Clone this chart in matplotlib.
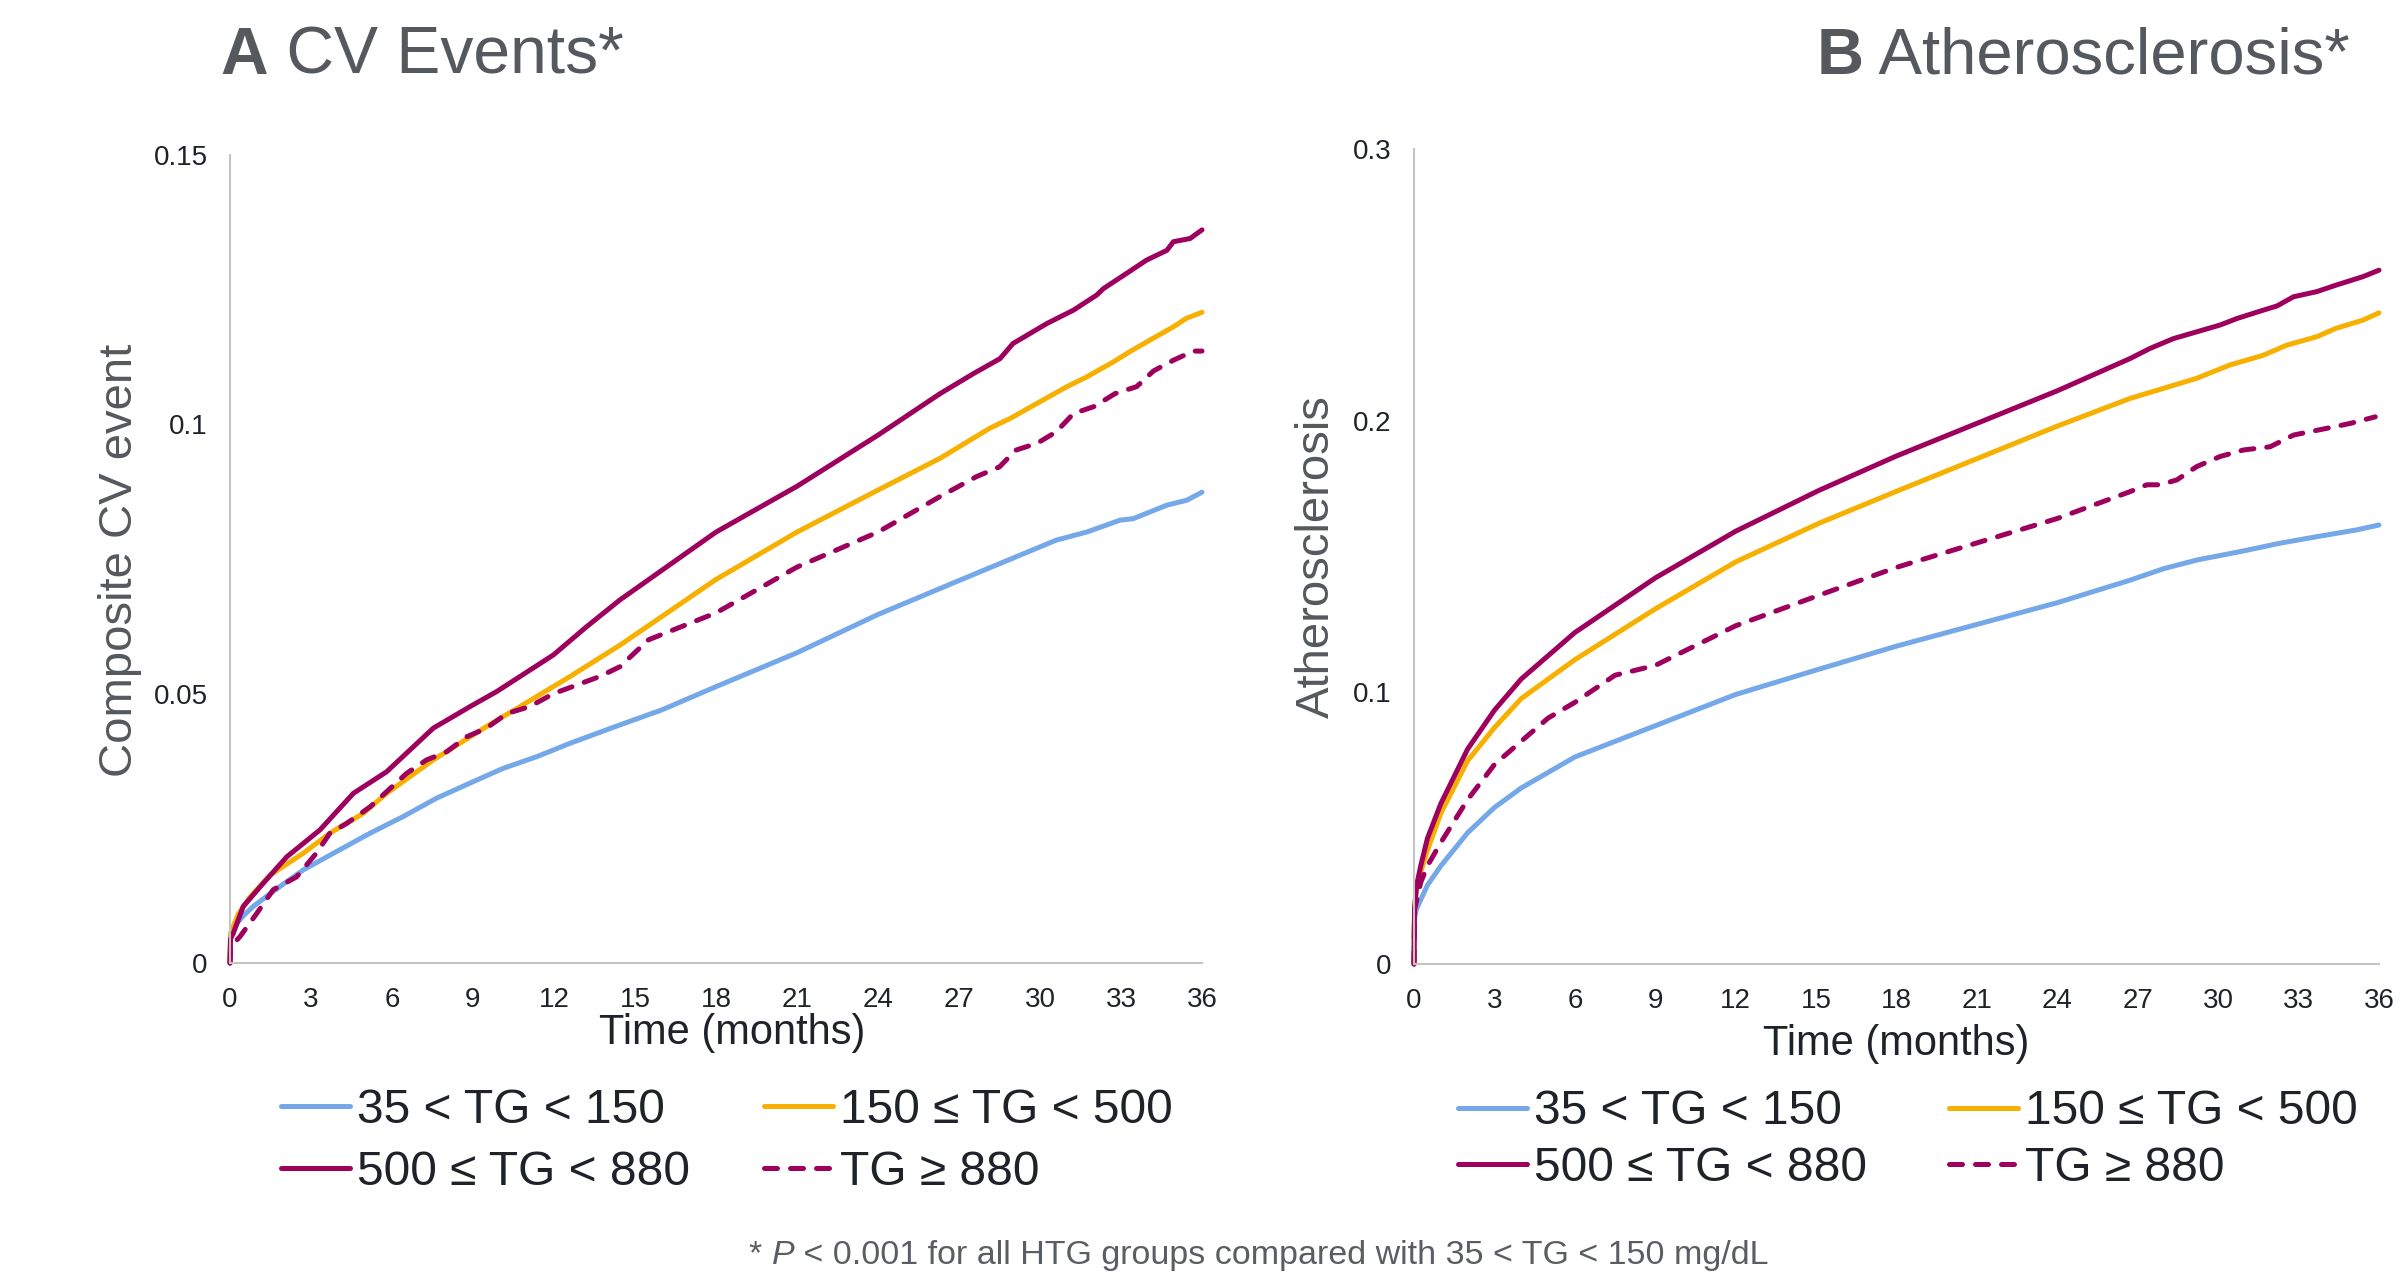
import matplotlib
matplotlib.use('Agg')
import matplotlib.pyplot as plt

plt.rcParams['font.family'] = ['Liberation Sans', 'DejaVu Sans']

# --- data (months, cumulative incidence) ---
labels = ['35 < TG < 150', '150 ≤ TG < 500', '500 ≤ TG < 880', 'TG ≥ 880']
colors = ['#74a8e8', '#f7b000', '#9e005d', '#9e005d']
styles = ['-', '-', '-', '--']

x_ticks = [0, 3, 6, 9, 12, 15, 18, 21, 24, 27, 30, 33, 36]

cv_ticks = [0, 0.05, 0.1, 0.15]
cv_tick_labels = ['0', '0.05', '0.1', '0.15']
ath_ticks = [0, 0.1, 0.2, 0.3]
ath_tick_labels = ['0', '0.1', '0.2', '0.3']

# panel A: composite CV event
cv_blue_m = [0, 0.02, 0.2, 0.5, 0.86, 1.85, 2.72, 3.95, 5.19, 6.42, 7.65, 8.89, 10.1, 11.36,
             12.6, 14.44, 16, 18, 21, 24, 27, 30.6, 31.73, 32.96, 33.46, 34.7, 35.43, 36]
cv_blue = [0, 0.005, 0.007, 0.0088, 0.0105, 0.0142, 0.0173, 0.0207, 0.0241, 0.0272, 0.0306,
           0.0334, 0.0361, 0.0383, 0.0408, 0.0442, 0.047, 0.0513, 0.0576, 0.0647, 0.071,
           0.0785, 0.0800, 0.0822, 0.0825, 0.0850, 0.0859, 0.0874]

cv_orange_m = [0, 0.02, 0.3, 0.7, 1.48, 2.72, 3.7, 4.94, 5.8, 7.53, 9.5, 10.74, 12.6, 14.44,
               18, 21, 24, 26.3, 28.15, 28.9, 30.0, 31.0, 31.73, 32.72, 33.33, 34.2, 34.94,
               35.43, 36]
cv_orange = [0, 0.0055, 0.009, 0.012, 0.0163, 0.0204, 0.0241, 0.0278, 0.0315, 0.0377, 0.0439,
             0.0476, 0.0532, 0.059, 0.0712, 0.0800, 0.0878, 0.0937, 0.0993, 0.1011, 0.1042,
             0.1070, 0.1088, 0.1116, 0.1135, 0.1160, 0.1181, 0.1197, 0.1208]

cv_maroon_m = [0, 0.02, 0.12, 0.49, 1.23, 2.1, 3.33, 4.57, 5.8, 7.53, 8.89, 9.88, 11.98, 13.2,
               14.44, 18, 21, 24, 26.3, 27.53, 28.52, 29.0, 30.25, 31.24, 32.1, 32.35, 33.2,
               33.95, 34.7, 34.94, 35.56, 36]
cv_maroon = [0, 0.0045, 0.0055, 0.0105, 0.0148, 0.0197, 0.0247, 0.0315, 0.0355, 0.0436,
             0.0476, 0.0504, 0.0572, 0.0624, 0.0674, 0.080, 0.0885, 0.098, 0.1057, 0.1094,
             0.1122, 0.1150, 0.1187, 0.1212, 0.1240, 0.1252, 0.1280, 0.1305, 0.1323, 0.1339,
             0.1345, 0.1361]

cv_dash_m = [0, 0.02, 0.37, 0.99, 1.6, 2.47, 3.2, 3.7, 4.32, 5.19, 5.8, 6.54, 7.28, 8.02, 8.77,
             9.5, 10.25, 11.1, 11.98, 12.84, 13.7, 14.44, 15.5, 18, 21, 24, 26.3, 27.65, 28.5,
             29.1, 29.9, 30.6, 31.24, 32.0, 32.78, 33.58, 34.2, 34.94, 35.68, 36]
cv_dash = [0, 0.003, 0.0049, 0.0092, 0.0136, 0.016, 0.0204, 0.0241, 0.0259, 0.029, 0.0318,
           0.0352, 0.0377, 0.0392, 0.042, 0.0436, 0.0463, 0.0476, 0.05, 0.0516, 0.0532, 0.055,
           0.060, 0.0650, 0.0735, 0.0800, 0.0866, 0.0903, 0.0921, 0.0952, 0.0965, 0.0986,
           0.1020, 0.1033, 0.1057, 0.1070, 0.1099, 0.1119, 0.1136, 0.1136]

# panel B: atherosclerosis
ath_blue_m = [0, 0.02, 0.1, 0.5, 1, 2, 3, 4, 6, 9, 12, 15.1, 18, 21, 24, 26.72, 27.96, 29.2,
              30.82, 32.31, 33.68, 35.17, 36]
ath_blue = [0, 0.017, 0.0204, 0.029, 0.0361, 0.0483, 0.0576, 0.0648, 0.0762, 0.0877, 0.0992,
            0.1085, 0.117, 0.125, 0.133, 0.1413, 0.1455, 0.1487, 0.1518, 0.1549, 0.1573,
            0.1598, 0.1616]

ath_orange_m = [0, 0.02, 0.1, 0.5, 1, 2, 3, 4, 6, 9, 12, 15.1, 18, 21, 24, 26.72, 27.96, 29.2,
                30.44, 31.69, 32.56, 33.68, 34.4, 35.4, 36]
ath_orange = [0, 0.02, 0.029, 0.0418, 0.0555, 0.0748, 0.087, 0.0977, 0.112, 0.1307, 0.148,
              0.1622, 0.174, 0.186, 0.198, 0.2082, 0.2119, 0.2156, 0.2205, 0.2241, 0.2278,
              0.2309, 0.2340, 0.2370, 0.2397]

ath_maroon_m = [0, 0.02, 0.1, 0.25, 0.5, 1, 2, 3, 4, 6, 9, 12, 15.1, 18, 21, 24, 26.72, 27.46,
                28.33, 29.2, 30.07, 30.7, 31.69, 32.19, 32.81, 33.68, 34.4, 35.4, 36]
ath_maroon = [0, 0.0204, 0.029, 0.0361, 0.0462, 0.059, 0.0791, 0.0934, 0.1049, 0.1220,
              0.1421, 0.1593, 0.1743, 0.187, 0.199, 0.211, 0.2229, 0.2266, 0.2302, 0.2327,
              0.2352, 0.2376, 0.2407, 0.2422, 0.2456, 0.2475, 0.2499, 0.2530, 0.2554]

ath_dash_m = [0, 0.02, 0.25, 0.5, 1, 2, 3, 4, 5, 6, 7.5, 9, 12, 15.1, 18, 21, 24, 26.72, 27.34,
              27.84, 28.46, 29.2, 30.07, 30.94, 31.94, 32.81, 34.06, 34.93, 35.86]
ath_dash = [0, 0.02, 0.030, 0.0361, 0.0447, 0.0605, 0.0734, 0.082, 0.0905, 0.0963, 0.1063,
            0.1099, 0.1245, 0.1357, 0.146, 0.155, 0.164, 0.1739, 0.1764, 0.1764, 0.1782,
            0.1831, 0.1868, 0.1892, 0.1904, 0.1947, 0.1972, 0.1990, 0.2014]

TEXT = '#1f2329'
GREY = '#55595e'

fig = plt.figure(figsize=(24.07, 12.81), dpi=100)
ax_a = fig.add_axes([230 / 2407, 1 - 963 / 1281, 972 / 2407, 808 / 1281])
ax_b = fig.add_axes([1414 / 2407, 1 - 964 / 1281, 965 / 2407, 815 / 1281])


def draw_panel(ax, series, yticks, yticklabels, ymax):
    for (m, v), lab, col, ls in zip(series, labels, colors, styles):
        ln, = ax.plot(m, v, color=col, lw=3.6, label=lab, clip_on=False,
                      solid_capstyle='round', solid_joinstyle='round')
        if ls == '--':
            ln.set_dashes((2.6, 2.6))
            ln.set_dash_capstyle('round')
    ax.set_xlim(0, 36)
    ax.set_ylim(0, ymax)
    ax.set_xticks(x_ticks)
    ax.set_yticks(yticks)
    ax.set_yticklabels(yticklabels)
    for s in ['top', 'right']:
        ax.spines[s].set_visible(False)
    for s in ['left', 'bottom']:
        ax.spines[s].set_color('#c4c4c4')
        ax.spines[s].set_linewidth(1.5)
    ax.tick_params(length=0, labelsize=20, colors=TEXT, pad=16)
    ax.tick_params(axis='x', pad=17)
    ax.set_facecolor('white')


draw_panel(ax_a, [(cv_blue_m, cv_blue), (cv_orange_m, cv_orange),
                  (cv_maroon_m, cv_maroon), (cv_dash_m, cv_dash)],
           cv_ticks, cv_tick_labels, 0.15)
draw_panel(ax_b, [(ath_blue_m, ath_blue), (ath_orange_m, ath_orange),
                  (ath_maroon_m, ath_maroon), (ath_dash_m, ath_dash)],
           ath_ticks, ath_tick_labels, 0.3)

W, H = 2407, 1281

# axis labels
fig.text(120 / W, 1 - 560 / H, 'Composite CV event', rotation=90, ha='center', va='center',
         fontsize=34, color=GREY)
fig.text(1317 / W, 1 - 557 / H, 'Atherosclerosis', rotation=90, ha='center', va='center',
         fontsize=34, color=GREY)
fig.text(732 / W, 1 - 1033 / H, 'Time (months)', ha='center', va='center', fontsize=30, color=TEXT)
fig.text(1896 / W, 1 - 1044 / H, 'Time (months)', ha='center', va='center', fontsize=30, color=TEXT)

# legends
leg_kw = dict(ncol=2, frameon=False, fontsize=34.5, handlelength=1.44, handletextpad=0.15,
              borderpad=0, borderaxespad=0, loc='center left', bbox_transform=fig.transFigure)
h, l = ax_a.get_legend_handles_labels()
order = [0, 2, 1, 3]
la = ax_a.legend([h[i] for i in order], [l[i] for i in order], columnspacing=1.54,
                 labelspacing=0.36, bbox_to_anchor=(281 / W, 1 - 1141.5 / H), **leg_kw)
lb = ax_b.legend([h[i] for i in order], [l[i] for i in order], columnspacing=1.7,
                 labelspacing=0.23, bbox_to_anchor=(1458 / W, 1 - 1140 / H), **leg_kw)
for lg in (la, lb):
    for t in lg.get_texts():
        t.set_color(TEXT)

# titles and footnote with mixed font styles
fig.canvas.draw()
renderer = fig.canvas.get_renderer()


def text_run(x_px, y_frac, parts, size, color, center=False):
    pieces = []
    for s, kw in parts:
        t = fig.text(0, y_frac, s, fontsize=size, color=color, va='baseline', **kw)
        pieces.append(t)
    widths = [p.get_window_extent(renderer).width for p in pieces]
    x = x_px - sum(widths) / 2 if center else x_px
    for p, w in zip(pieces, widths):
        p.set_x(x / W)
        x += w


text_run(220, 1 - 74 / H, [('A', dict(fontweight='bold')), (' CV Events*', {})], 47.5, GREY)
text_run(1817, 1 - 74 / H, [('B', dict(fontweight='bold')), (' Atherosclerosis*', {})], 47, GREY)
text_run(1259, 1 - 1264 / H, [('* ', {}), ('P', dict(style='italic')),
                               (' < 0.001 for all HTG groups compared with 35 < TG < 150 mg/dL', {})],
         24.5, '#5a5e63', center=True)

fig.savefig('out.png', dpi=100, facecolor='white')
